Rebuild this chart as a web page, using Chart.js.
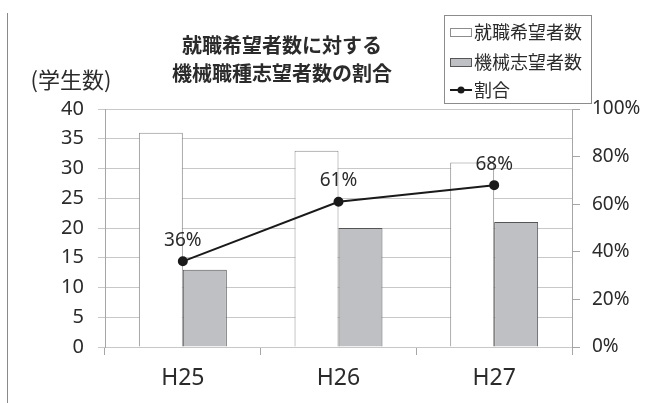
<!DOCTYPE html>
<html lang="ja">
<head>
<meta charset="utf-8">
<title>就職希望者数に対する機械職種志望者数の割合</title>
<script src="https://cdn.jsdelivr.net/npm/chart.js@4.4.1/dist/chart.umd.min.js"></script>
<style>
  body { margin: 0; background: #fff; }
  #wrap { position: relative; width: 646px; height: 403px; }
  #wrap .edge { position: absolute; left: 7px; top: 13px; bottom: 0; border-left: 1px solid #8a8a8a; }
</style>
</head>
<body>
<div id="wrap">
  <canvas id="chart" width="646" height="403"></canvas>
  <div class="edge"></div>
</div>
<script>
// 年度ごとの人数と割合
const nendo = ['H25', 'H26', 'H27'];
const kibousha = [36, 33, 31];      // 就職希望者数
const kikaiShibou = [13, 20, 21];   // 機械志望者数
const wariai = [36, 61, 68];        // 割合 (%)

const seriesNames = ['就職希望者数', '機械志望者数', '割合'];
const titleLines = ['就職希望者数に対する', '機械職種志望者数の割合'];

const FONT_JP = '"Noto Sans CJK JP", "Noto Sans", sans-serif';
const FONT_NUM = '"Noto Sans", "Noto Sans CJK JP", sans-serif';
const TEXT = '#2b2b2b';

// タイトルと縦軸の単位
const titlePlugin = {
  id: 'midashi',
  afterDraw(chart) {
    const ctx = chart.ctx;
    ctx.save();
    ctx.fillStyle = TEXT;
    ctx.textAlign = 'center';
    ctx.textBaseline = 'middle';
    ctx.font = 'bold 20px ' + FONT_JP;
    titleLines.forEach((t, i) => ctx.fillText(t, 282, 45 + i * 28));
    ctx.font = '22px ' + FONT_JP;
    ctx.fillText('(学生数)', 71, 80);
    ctx.restore();
  }
};

// 枠付きの凡例
const hanreiPlugin = {
  id: 'hanrei',
  afterDraw(chart) {
    const ctx = chart.ctx;
    const x0 = 444, y0 = 15, w = 147, h = 88;
    const rowY = [32, 62, 90];
    ctx.save();
    ctx.fillStyle = '#fff';
    ctx.fillRect(x0, y0, w, h);
    ctx.strokeStyle = '#8c8c8c';
    ctx.lineWidth = 1;
    ctx.strokeRect(x0 + 0.5, y0 + 0.5, w, h);
    chart.data.datasets.forEach((ds, i) => {
      const y = rowY[i];
      if (ds.type === 'line') {
        ctx.strokeStyle = ds.borderColor;
        ctx.lineWidth = 2;
        ctx.beginPath();
        ctx.moveTo(450, y);
        ctx.lineTo(472, y);
        ctx.stroke();
        ctx.fillStyle = ds.borderColor;
        ctx.beginPath();
        ctx.arc(461, y, 3.5, 0, Math.PI * 2);
        ctx.fill();
      } else {
        ctx.fillStyle = ds.backgroundColor;
        ctx.fillRect(450, y - 4, 22, 9);
        ctx.strokeStyle = ds.borderColor;
        ctx.lineWidth = 1;
        ctx.strokeRect(450.5, y - 3.5, 21, 8);
      }
      ctx.fillStyle = TEXT;
      ctx.font = '18px ' + FONT_JP;
      ctx.textAlign = 'left';
      ctx.textBaseline = 'middle';
      ctx.fillText(ds.label, 474, y);
    });
    ctx.restore();
  }
};

// 折れ線の点の上に割合を表示
const labelPlugin = {
  id: 'wariaiLabel',
  afterDatasetsDraw(chart) {
    const ctx = chart.ctx;
    const meta = chart.getDatasetMeta(2);
    ctx.save();
    ctx.fillStyle = TEXT;
    ctx.font = '19px ' + FONT_NUM;
    ctx.textAlign = 'center';
    ctx.textBaseline = 'middle';
    meta.data.forEach((pt, i) => {
      ctx.fillText(wariai[i] + '%', pt.x, pt.y - 21);
    });
    ctx.restore();
  }
};

new Chart(document.getElementById('chart'), {
  data: {
    labels: nendo,
    datasets: [{
      type: 'bar',
      label: seriesNames[0],
      data: kibousha,
      backgroundColor: '#ffffff',
      borderColor: '#8c8c8c',
      borderWidth: 1,
      yAxisID: 'y',
      order: 1
    }, {
      type: 'bar',
      label: seriesNames[1],
      data: kikaiShibou,
      backgroundColor: '#bfc0c4',
      borderColor: '#555555',
      borderWidth: 1,
      yAxisID: 'y',
      order: 2
    }, {
      type: 'line',
      label: seriesNames[2],
      data: wariai,
      borderColor: '#1a1a1a',
      borderWidth: 2,
      pointRadius: 4,
      pointBackgroundColor: '#1a1a1a',
      pointBorderColor: '#1a1a1a',
      tension: 0,
      yAxisID: 'y1',
      order: 0
    }]
  },
  options: {
    responsive: false,
    animation: false,
    devicePixelRatio: 1,
    events: [],
    layout: { padding: { top: 109, left: 0, right: 0, bottom: 0 } },
    datasets: {
      bar: { categoryPercentage: 0.565, barPercentage: 1.0 }
    },
    plugins: {
      legend: { display: false },
      tooltip: { enabled: false },
      title: { display: false }
    },
    scales: {
      x: {
        grid: { offset: true, drawOnChartArea: false, tickLength: 8, color: '#a6a6a6' },
        border: { color: '#c8c8c8' },
        ticks: { font: { family: FONT_NUM, size: 23 }, color: TEXT, padding: 10 },
        afterFit(s) { s.height = 56; }
      },
      y: {
        position: 'left',
        min: 0,
        max: 40,
        ticks: { stepSize: 5, font: { family: FONT_NUM, size: 20 }, color: TEXT, padding: 14 },
        grid: { color: '#c8c8c8', tickLength: 7 },
        border: { color: '#a6a6a6' },
        afterFit(s) { s.width = 105; }
      },
      y1: {
        position: 'right',
        min: 0,
        max: 100,
        ticks: {
          stepSize: 20,
          callback: v => v + '%',
          font: { family: FONT_NUM, size: 19 },
          color: TEXT,
          padding: 12
        },
        grid: { drawOnChartArea: false, tickLength: 8, color: '#a6a6a6' },
        border: { color: '#a6a6a6' },
        afterFit(s) { s.width = 74; }
      }
    }
  },
  plugins: [labelPlugin, titlePlugin, hanreiPlugin]
});
</script>
</body>
</html>
